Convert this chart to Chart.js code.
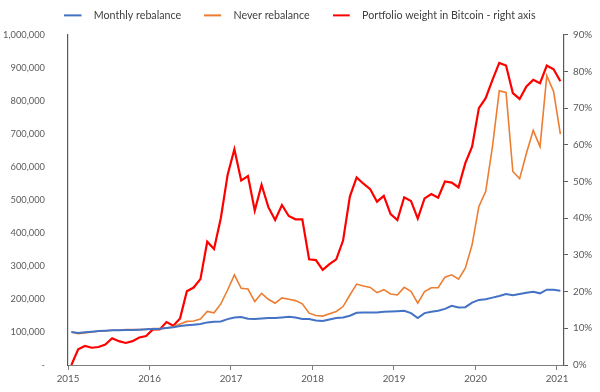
<!DOCTYPE html>
<html>
<head>
<meta charset="utf-8">
<script src="https://cdn.jsdelivr.net/npm/chart.js@4.4.1/dist/chart.umd.min.js"></script>
<style>
  html, body { margin: 0; padding: 0; background: #fff; }
</style>
</head>
<body>
<canvas id="myChart" width="600" height="392"></canvas>
<script>
// monthly observations, Jan 2015 .. Jan 2021
const startYear = 2015;
const years = [2015, 2016, 2017, 2018, 2019, 2020, 2021];

// portfolio value, monthly rebalance
const monthlyRebalance = [
  100000, 97000, 99000, 101000, 103000, 104000, 105000, 105000, 106000, 106000, 107000, 108000,
  109000, 110000, 112000, 114000, 118000, 120000, 122000, 124000, 129000, 131000, 132000, 139000,
  144000, 145000, 140000, 139000, 141000, 142000, 142000, 144000, 146000, 144000, 139000, 139000,
  135000, 133000, 138000, 142000, 144000, 149000, 158000, 159000, 159000, 159000, 161000, 162000,
  163000, 164000, 157000, 142000, 157000, 161000, 164000, 170000, 179000, 174000, 175000, 189000,
  197000, 199000, 204000, 209000, 215000, 211000, 215000, 219000, 222000, 217000, 228000, 228000,
  225000
];

// portfolio value, never rebalance
const neverRebalance = [
  100000, 95000, 97000, 100000, 102000, 103000, 105000, 105000, 107000, 107000, 107000, 108000,
  110000, 110000, 112000, 116000, 124000, 132000, 133000, 139000, 162000, 158000, 185000, 227000,
  273000, 232000, 230000, 192000, 217000, 199000, 187000, 203000, 199000, 195000, 185000, 157000,
  150000, 148000, 155000, 162000, 177000, 212000, 245000, 239000, 235000, 219000, 228000, 215000,
  212000, 235000, 223000, 187000, 222000, 234000, 234000, 266000, 273000, 260000, 293000, 364000,
  480000, 525000, 661000, 830000, 825000, 586000, 564000, 641000, 710000, 661000, 876000, 828000,
  699000
];

// bitcoin weight in the never-rebalanced portfolio, %
const btcWeight = [
  0, 4.3, 5.2, 4.7, 4.9, 5.6, 7.3, 6.5, 6.0, 6.5, 7.5, 7.9,
  9.7, 9.7, 11.7, 10.7, 12.7, 20.1, 21.1, 23.4, 33.6, 31.6, 40.0, 51.8,
  58.8, 50.3, 51.5, 42.1, 49.1, 43.0, 39.5, 43.6, 40.6, 39.7, 39.7, 28.8,
  28.6, 25.9, 27.5, 28.8, 33.9, 45.9, 51.1, 49.4, 47.9, 44.5, 46.1, 41.1,
  39.5, 45.7, 44.7, 39.9, 45.4, 46.6, 45.6, 50.0, 49.7, 48.4, 55.0, 59.5,
  70.0, 72.7, 77.7, 82.3, 81.6, 74.1, 72.5, 75.9, 77.7, 76.8, 81.6, 80.6,
  77.3
];

// mid-month position of each observation on a year axis
function toPoints(values) {
  return values.map((v, i) => ({ x: startYear + (i + 0.5) / 12, y: v }));
}

// legend sample: short line with some blank space after it
function legendLine(color, width) {
  const c = document.createElement('canvas');
  c.width = 24;
  c.height = 6;
  const g = c.getContext('2d');
  g.strokeStyle = color;
  g.lineWidth = width;
  g.beginPath();
  g.moveTo(0, 3);
  g.lineTo(17, 3);
  g.stroke();
  return c;
}

// a bit more room between legend and plot
const legendGap = {
  id: 'legendGap',
  beforeInit(chart) {
    const fit = chart.legend.fit;
    chart.legend.fit = function () {
      fit.call(this);
      this.height += 4;
    };
  }
};

const fontFamily = 'Lato, "Open Sans", sans-serif';
const tickColor = '#595959';

const ctx = document.getElementById('myChart').getContext('2d');
new Chart(ctx, {
  type: 'line',
  data: {
    datasets: [
      {
        label: 'Monthly rebalance',
        data: toPoints(monthlyRebalance),
        borderColor: '#4472C4',
        backgroundColor: '#4472C4',
        borderWidth: 2,
        pointRadius: 0,
        pointStyle: legendLine('#4472C4', 2),
        yAxisID: 'y'
      },
      {
        label: 'Never rebalance',
        data: toPoints(neverRebalance),
        borderColor: '#ED7D31',
        backgroundColor: '#ED7D31',
        borderWidth: 1.6,
        pointRadius: 0,
        pointStyle: legendLine('#ED7D31', 2),
        yAxisID: 'y'
      },
      {
        label: 'Portfolio weight in Bitcoin - right axis',
        data: toPoints(btcWeight),
        borderColor: '#FF0000',
        backgroundColor: '#FF0000',
        borderWidth: 2.2,
        pointRadius: 0,
        pointStyle: legendLine('#FF0000', 2),
        yAxisID: 'y1'
      }
    ]
  },
  plugins: [legendGap],
  options: {
    responsive: false,
    animation: false,
    devicePixelRatio: 1,
    layout: { padding: { top: -13, right: 0, bottom: 0, left: 0 } },
    plugins: {
      tooltip: { enabled: false },
      legend: {
        position: 'top',
        labels: {
          usePointStyle: true,
          pointStyleWidth: 24,
          color: '#404040',
          padding: 23,
          font: { family: fontFamily, size: 10.7 }
        }
      }
    },
    scales: {
      x: {
        type: 'linear',
        min: 2015,
        max: 2021.086,
        afterBuildTicks: function (scale) {
          scale.ticks = years.map(v => ({ value: v }));
        },
        afterFit: function (scale) { scale.height = 27; },
        ticks: {
          color: tickColor,
          font: { family: fontFamily, size: 9.8 },
          maxRotation: 0,
          autoSkip: false,
          padding: 3,
          callback: v => String(v)
        },
        grid: { drawOnChartArea: false, tickLength: 5, color: '#7f7f7f' },
        border: { color: '#7f7f7f', width: 1 }
      },
      y: {
        position: 'left',
        min: 0,
        max: 1000000,
        afterFit: function (scale) { scale.width = 68; },
        ticks: {
          stepSize: 100000,
          color: tickColor,
          font: { family: fontFamily, size: 9.3 },
          padding: 15,
          callback: function (value) {
            if (value === 0) {
              return '-';
            }
            return value.toLocaleString('en-US');
          }
        },
        grid: { display: false },
        border: { color: '#595959', width: 1.2 }
      },
      y1: {
        position: 'right',
        min: 0,
        max: 90,
        afterFit: function (scale) { scale.width = 36; },
        ticks: {
          stepSize: 10,
          color: tickColor,
          font: { family: fontFamily, size: 9.8 },
          padding: 5,
          callback: v => v + '%'
        },
        grid: { drawOnChartArea: false, tickLength: 4, color: '#595959' },
        border: { color: '#595959', width: 1.2 }
      }
    }
  }
});
</script>
</body>
</html>
